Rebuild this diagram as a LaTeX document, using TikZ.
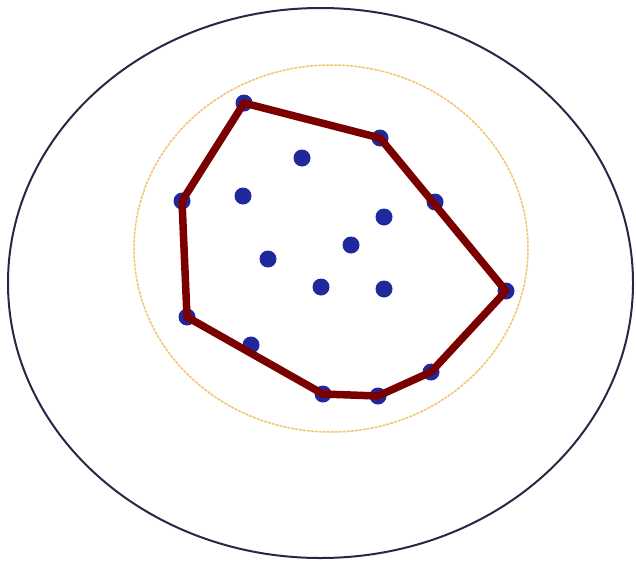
\documentclass[tikz,border=0pt]{standalone}
\begin{document}
\begin{tikzpicture}[x=1pt,y=-1pt,
  dot/.style={circle,fill=dotblue,inner sep=0pt,minimum size=17pt},
  hull/.style={draw=hullred,line width=7.5pt,line join=round,line cap=round},
  outer/.style={draw=outerink,line width=2pt},
  bound/.style={draw=boundorange,line width=1.5pt,dash pattern=on 3pt off 1pt}]
\definecolor{dotblue}{RGB}{32,40,158}
\definecolor{hullred}{RGB}{122,0,0}
\definecolor{outerink}{RGB}{40,40,70}
\definecolor{boundorange}{RGB}{244,196,110}
\useasboundingbox (0,0) rectangle (636,562);
\fill[white] (0,0) rectangle (636,562);
\draw[outer] (320.5,283) ellipse [x radius=312.5, y radius=275];
\draw[bound] (331,248.5) ellipse [x radius=197, y radius=183.5];
\node[dot] (p1) at (244,103) {};
\node[dot] (p2) at (380,138) {};
\node[dot] (p3) at (302,158) {};
\node[dot] (p4) at (182,201) {};
\node[dot] (p5) at (243,196) {};
\node[dot] (p6) at (435,202) {};
\node[dot] (p7) at (384,217) {};
\node[dot] (p8) at (351,245) {};
\node[dot] (p9) at (268,259) {};
\node[dot] (p10) at (321,287) {};
\node[dot] (p11) at (384,289) {};
\node[dot] (p12) at (506,291) {};
\node[dot] (p13) at (187,317) {};
\node[dot] (p14) at (251,345) {};
\node[dot] (p15) at (431,372) {};
\node[dot] (p16) at (323,394) {};
\node[dot] (p17) at (378,396) {};
\draw[hull] (p1.center) -- (p2.center) -- (p12.center) -- (p15.center) -- (p17.center) -- (p16.center) -- (p13.center) -- (p4.center) -- cycle;
\end{tikzpicture}
\end{document}
